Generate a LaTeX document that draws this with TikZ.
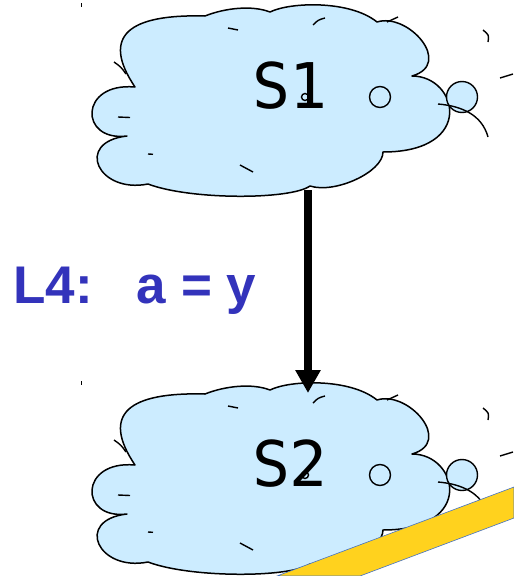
\documentclass[tikz,border=0pt]{standalone}
\usepackage{fontspec}
\usepackage{xcolor}
\usepackage{tikz}
\usetikzlibrary{arrows.meta}
\newfontfamily\statefont{DejaVu Sans Mono}
\newfontfamily\labelfont{Liberation Sans}
\definecolor{skyish}{RGB}{204,236,255}
\definecolor{inkblue}{RGB}{51,51,187}
\definecolor{goldish}{RGB}{255,210,30}
\definecolor{edgeblue}{RGB}{68,114,196}

\newcommand{\statecloud}[3]{%
  \begin{scope}[shift={(0,#2)}]
    \filldraw[puff] (127,136)
      .. controls (79,142) and (79,82) .. (135,87)
      .. controls (100,35) and (130,14) .. (205,16)
      .. controls (225,8) and (252,5) .. (270,12)
      .. controls (290,2) and (350,0) .. (377,22)
      .. controls (408,12) and (454,64) .. (412,76)
      .. controls (458,76) and (476,152) .. (383,152)
      .. controls (383,172) and (335,194) .. (310,186)
      .. controls (290,200) and (190,200) .. (148,184)
      .. controls (98,194) and (74,142) .. (127,136) -- cycle;
    \draw[wisp] (228,28) -- (238,30);
    \draw[wisp] (114,62) .. controls (121,67) .. (126,74);
    \draw[wisp] (118,117) -- (130,117.5);
    \draw[wisp] (148,154) -- (153,154.3);
    \draw[wisp] (240,165) .. controls (246,169) .. (253,172);
    \draw[wisp] (313,25) .. controls (318,20) .. (325,18);
    \draw[wisp] (387,22) -- (398,17);
    \draw[wisp] (483,30) .. controls (489,35) .. (488,42);
    \draw[wisp] (500,78) -- (513,74);
    \draw[wisp, line width=0.8pt] (81,3) -- (81,7);
    \filldraw[bubble] (462,97) circle (15.5pt);
    \draw[wisp] (438,104) .. controls (462,106) and (482,115) .. (488,137);
    \filldraw[bubble] (380,97) circle (10.5pt);
    \filldraw[bubble] (305,97) circle (3.5pt);
    \node[statetext] (#1) at (290,108) {#3};
    \coordinate (#1-top) at (308,15);
    \coordinate (#1-bot) at (308,190);
  \end{scope}}

\begin{document}
\begin{tikzpicture}[
   x=1pt, y=-1pt,
   puff/.style={fill=skyish, draw=black, line width=1.5pt, line join=round},
   wisp/.style={draw=black, line width=1.4pt},
   bubble/.style={fill=skyish, draw=black, line width=1.4pt},
   statetext/.style={anchor=base, inner sep=0pt, text=black,
     font=\statefont\fontsize{63}{63}\selectfont},
   lbltext/.style={anchor=base west, inner sep=0pt, text=inkblue,
     font=\labelfont\bfseries\fontsize{53}{53}\selectfont},
   flow/.style={draw=black, line width=7.5pt, -{Triangle[length=23pt,width=24pt]}},
   bar/.style={fill=goldish, draw=edgeblue, line width=0.6pt}
]
\useasboundingbox[fill=white] (0,0) rectangle (514,576);

\statecloud{s1}{0}{S1}
\statecloud{s2}{378}{S2}

\draw[flow] (s1-bot) -- (s2-top);

\node[lbltext] (l4) at (13,303) {L4:~~~a = y};

\filldraw[bar] (277,576) -- (514,487) -- (514,518) -- (360,576) -- cycle;
\end{tikzpicture}
\end{document}
